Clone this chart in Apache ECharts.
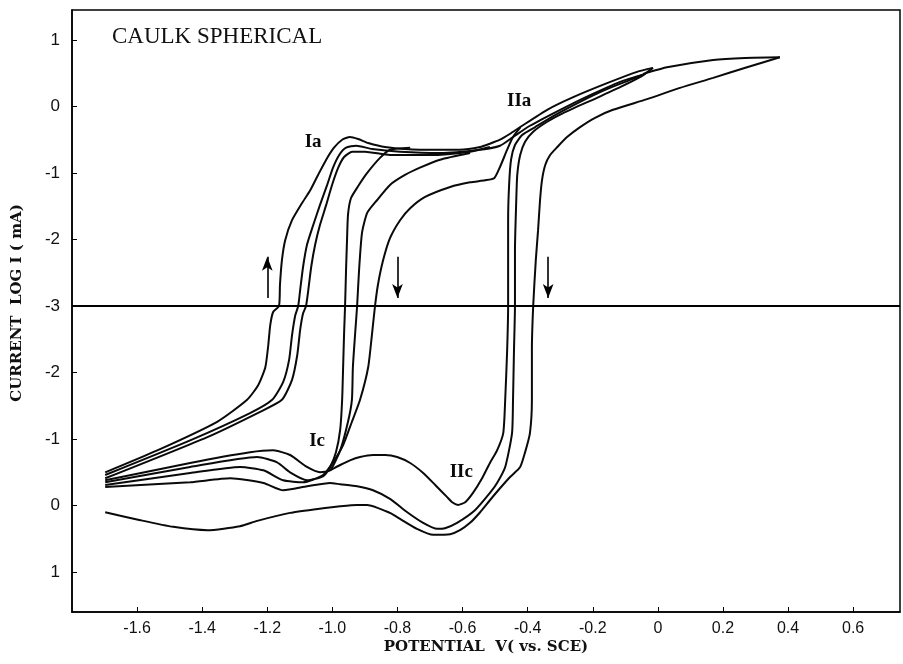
<!DOCTYPE html>
<html>
<head>
<meta charset="utf-8">
<script src="https://cdn.jsdelivr.net/npm/echarts@6/dist/echarts.min.js"></script>
<style>html,body{margin:0;padding:0;background:#fff;}#c{width:903px;height:664px;}</style>
</head>
<body>
<div id="c"></div>
<script>
// Potential (V vs SCE) and folded log-current: y = sign(I)*(log10|I|(mA) + 3)
// upper half = anodic current, lower half = cathodic current, midline = 1 µA (label -3)
const xTicks = [-1.6,-1.4,-1.2,-1.0,-0.8,-0.6,-0.4,-0.2,0,0.2,0.4,0.6];
const yTicks = [-4,-3,-2,-1,0,1,2,3,4];

const anodicOuter = [[-1.698,-2.50],[-1.538,-2.17],[-1.354,-1.74],[-1.262,-1.41],[-1.228,-1.19],[-1.206,-0.92],[-1.197,-0.59],[-1.191,-0.29],[-1.182,-0.09],[-1.164,0],[-1.161,0.32],[-1.155,0.69],[-1.145,0.99],[-1.124,1.29],[-1.093,1.55],[-1.068,1.74],[-1.044,1.97],[-1.019,2.20],[-0.995,2.38],[-0.970,2.50],[-0.946,2.54],[-0.921,2.51],[-0.890,2.45],[-0.838,2.39],[-0.731,2.35],[-0.608,2.35],[-0.546,2.39],[-0.516,2.44],[-0.485,2.50],[-0.454,2.59],[-0.423,2.69],[-0.340,2.95],[-0.260,3.14],[-0.156,3.35],[-0.064,3.52],[-0.015,3.58]];
const anodicBundle1 = [[-1.698,-2.54],[-1.437,-2.02],[-1.253,-1.61],[-1.185,-1.41],[-1.151,-1.14],[-1.133,-0.81],[-1.124,-0.44],[-1.114,-0.14],[-1.105,0],[-1.099,0.24],[-1.090,0.59],[-1.078,0.92],[-1.062,1.17],[-1.038,1.52],[-1.016,1.82],[-0.998,2.08],[-0.979,2.27],[-0.958,2.38],[-0.927,2.41],[-0.878,2.36],[-0.792,2.32],[-0.669,2.30],[-0.546,2.35],[-0.485,2.41],[-0.445,2.54],[-0.393,2.71],[-0.300,2.95],[-0.208,3.17],[-0.116,3.37],[-0.039,3.49]];
const anodicBundle2 = [[-1.698,-2.59],[-1.384,-1.97],[-1.222,-1.59],[-1.155,-1.41],[-1.124,-1.11],[-1.108,-0.74],[-1.099,-0.36],[-1.090,-0.11],[-1.081,0],[-1.074,0.24],[-1.065,0.59],[-1.053,0.92],[-1.038,1.22],[-1.019,1.52],[-1.001,1.82],[-0.982,2.08],[-0.964,2.24],[-0.939,2.32],[-0.900,2.32],[-0.823,2.27],[-0.700,2.27],[-0.577,2.32],[-0.516,2.39]];
const reverseM1 = [[-0.761,2.38],[-0.823,2.35],[-0.853,2.23],[-0.893,2.00],[-0.921,1.80],[-0.943,1.62],[-0.952,1.37],[-0.955,0.99],[-0.958,0.54],[-0.961,0],[-0.964,-0.41],[-0.967,-0.92],[-0.970,-1.41],[-0.976,-1.86],[-0.989,-2.20],[-1.007,-2.42],[-1.029,-2.56],[-1.078,-2.62],[-1.130,-2.50],[-1.170,-2.35],[-1.231,-2.27],[-1.437,-2.42],[-1.698,-2.65]];
const reverseM2 = [[-0.577,2.30],[-0.669,2.20],[-0.731,2.08],[-0.777,1.97],[-0.823,1.82],[-0.863,1.59],[-0.893,1.40],[-0.909,1.10],[-0.918,0.54],[-0.924,0],[-0.930,-0.41],[-0.937,-0.92],[-0.940,-1.41],[-0.952,-1.74],[-0.976,-2.17],[-1.007,-2.47],[-1.038,-2.50],[-1.078,-2.42],[-1.130,-2.24],[-1.182,-2.17],[-1.253,-2.20],[-1.437,-2.36],[-1.698,-2.62]];
const reverseM3 = [[-0.423,2.68],[-0.445,2.54],[-0.463,2.35],[-0.485,2.09],[-0.503,1.92],[-0.531,1.89],[-0.577,1.86],[-0.638,1.79],[-0.715,1.64],[-0.761,1.47],[-0.792,1.29],[-0.823,1.02],[-0.844,0.69],[-0.860,0.32],[-0.869,0],[-0.878,-0.41],[-0.890,-0.92],[-0.915,-1.41],[-0.940,-1.74],[-0.967,-2.09],[-0.998,-2.35],[-1.029,-2.54],[-1.090,-2.65],[-1.151,-2.62],[-1.212,-2.47],[-1.283,-2.42],[-1.437,-2.51],[-1.698,-2.69]];
const reverseL1 = [[-0.039,3.49],[-0.085,3.40],[-0.162,3.25],[-0.239,3.07],[-0.316,2.87],[-0.377,2.69],[-0.417,2.57],[-0.439,2.42],[-0.451,2.20],[-0.457,1.82],[-0.460,1.29],[-0.460,0.69],[-0.460,0],[-0.463,-0.66],[-0.469,-1.41],[-0.475,-1.91],[-0.494,-2.17],[-0.516,-2.36],[-0.540,-2.59],[-0.568,-2.81],[-0.592,-2.95],[-0.614,-2.99],[-0.632,-2.95],[-0.648,-2.87],[-0.684,-2.69],[-0.721,-2.51],[-0.761,-2.36],[-0.801,-2.27],[-0.838,-2.24],[-0.875,-2.24],[-0.915,-2.27],[-0.946,-2.32],[-0.976,-2.39],[-1.007,-2.47]];
const reverseL2 = [[-0.015,3.58],[-0.055,3.44],[-0.116,3.29],[-0.187,3.13],[-0.291,2.90],[-0.340,2.77],[-0.383,2.62],[-0.408,2.47],[-0.423,2.27],[-0.432,1.97],[-0.435,1.59],[-0.439,0.84],[-0.439,0],[-0.442,-0.66],[-0.445,-1.41],[-0.448,-1.91],[-0.469,-2.42],[-0.494,-2.66],[-0.516,-2.81],[-0.562,-3.07],[-0.617,-3.26],[-0.654,-3.34],[-0.678,-3.35],[-0.721,-3.26],[-0.770,-3.10],[-0.823,-2.90],[-0.875,-2.77],[-0.924,-2.71],[-0.976,-2.68],[-1.007,-2.66],[-1.078,-2.71],[-1.151,-2.77],[-1.212,-2.66],[-1.314,-2.59],[-1.437,-2.65],[-1.698,-2.72]];
const anodicL3 = [[-0.045,3.49],[0.028,3.59],[0.170,3.70],[0.268,3.73],[0.375,3.74]];
const reverseL3 = [[0.375,3.74],[0.274,3.59],[0.170,3.43],[0.068,3.28],[-0.033,3.11],[-0.138,2.95],[-0.193,2.83],[-0.239,2.69],[-0.279,2.54],[-0.309,2.39],[-0.331,2.27],[-0.346,2.12],[-0.356,1.89],[-0.362,1.59],[-0.368,1.14],[-0.375,0.69],[-0.383,0],[-0.387,-0.66],[-0.387,-1.41],[-0.393,-1.91],[-0.408,-2.20],[-0.423,-2.42],[-0.454,-2.57],[-0.485,-2.74],[-0.516,-2.92],[-0.546,-3.10],[-0.577,-3.26],[-0.608,-3.37],[-0.638,-3.43],[-0.690,-3.44],[-0.740,-3.35],[-0.792,-3.20],[-0.823,-3.11],[-0.893,-2.99],[-0.924,-2.99],[-0.976,-3.01],[-1.029,-3.04],[-1.130,-3.11],[-1.231,-3.23],[-1.284,-3.31],[-1.384,-3.37],[-1.489,-3.32],[-1.590,-3.22],[-1.698,-3.10]];

const peakNames = ['Ia','IIa','Ic','IIc'];
const peakV = [-1.059,-0.426,-1.047,-0.604];
const peakY = [2.47,3.08,-2.03,-2.50];

const arrowX = [-1.2,-0.80,-0.337];
const arrowUp = [true,false,false];
const arrowLow = 0.12, arrowHigh = 0.74;

const curves = [anodicOuter, anodicBundle1, anodicBundle2, reverseM1, reverseM2, reverseM3, reverseL1, reverseL2, anodicL3, reverseL3];

const chart = echarts.init(document.getElementById('c'), null, {renderer:'canvas'});
const lineStyle = {color:'#0a0a0a', width:2};
const series = curves.map(d => ({type:'line', data:d, showSymbol:false, smooth:0.2, lineStyle:lineStyle, silent:true, animation:false}));

series[0].markLine = {silent:true, animation:false, symbol:'none', label:{show:false},
  lineStyle:{color:'#000', width:2, type:'solid'}, data:[{yAxis:0}]};
series[1].markLine = {silent:true, animation:false, symbol:['none','arrow'], symbolSize:[8,14], label:{show:false},
  lineStyle:{color:'#000', width:1.6, type:'solid'},
  data: arrowX.map((x,i) => arrowUp[i]
    ? [{coord:[x,arrowLow]},{coord:[x,arrowHigh]}]
    : [{coord:[x,arrowHigh]},{coord:[x,arrowLow]}])};

chart.setOption({
  backgroundColor:'#fff',
  animation:false,
  grid:{left:72, right:3, top:10, bottom:52, show:true, borderColor:'#000', borderWidth:1.5, containLabel:false, outerBoundsMode:'none'},
  xAxis:{type:'value', min:-1.80, max:0.744,
    axisLine:{show:true, onZero:false, lineStyle:{color:'#000', width:1.5}},
    axisTick:{show:true, inside:true, length:5, customValues:xTicks, lineStyle:{color:'#000'}},
    axisLabel:{show:true, customValues:xTicks, margin:9, color:'#111', fontFamily:'Liberation Sans', fontSize:16,
      formatter:v=> (Math.abs(v)<1e-9 ? '0' : v.toFixed(1))},
    splitLine:{show:false}},
  yAxis:{type:'value', min:-4.6, max:4.45,
    axisLine:{show:true, onZero:false, lineStyle:{color:'#000', width:1.5}},
    axisTick:{show:true, inside:true, length:5, customValues:yTicks, lineStyle:{color:'#000'}},
    axisLabel:{show:true, customValues:yTicks, margin:12, color:'#111', fontFamily:'Liberation Sans', fontSize:17,
      formatter:v=> String(Math.round(Math.abs(v)-3))},
    splitLine:{show:false}},
  graphic:[
    {type:'text', x:112, y:37, style:{text:'CAULK SPHERICAL', fill:'#111', font:'23px "Liberation Serif"', align:'left', verticalAlign:'middle'}},
    {type:'text', x:17, y:303, rotation:Math.PI/2, style:{text:'CURRENT  LOG I ( mA)', fill:'#111', font:'bold 15px "DejaVu Serif"', align:'center', verticalAlign:'middle'}},
    {type:'text', x:486, y:647, style:{text:'POTENTIAL  V( vs. SCE)', fill:'#111', font:'bold 15px "DejaVu Serif"', align:'center', verticalAlign:'middle'}}
  ],
  series:series
});

// peak labels placed through the chart's own coordinate conversion
const peakGraphics = peakNames.map((n,i) => {
  const p = chart.convertToPixel({gridIndex:0}, [peakV[i], peakY[i]]);
  return {type:'text', x:p[0], y:p[1], silent:true,
    style:{text:n, fill:'#0a0a0a', font:'bold 19px "Liberation Serif"', align:'center', verticalAlign:'middle'}};
});
chart.setOption({graphic: [
  {type:'text', x:112, y:37, style:{text:'CAULK SPHERICAL', fill:'#111', font:'23px "Liberation Serif"', align:'left', verticalAlign:'middle'}},
  {type:'text', x:17, y:303, rotation:Math.PI/2, style:{text:'CURRENT  LOG I ( mA)', fill:'#111', font:'bold 15px "DejaVu Serif"', align:'center', verticalAlign:'middle'}},
  {type:'text', x:486, y:647, style:{text:'POTENTIAL  V( vs. SCE)', fill:'#111', font:'bold 15px "DejaVu Serif"', align:'center', verticalAlign:'middle'}}
].concat(peakGraphics)});
</script>
</body>
</html>
